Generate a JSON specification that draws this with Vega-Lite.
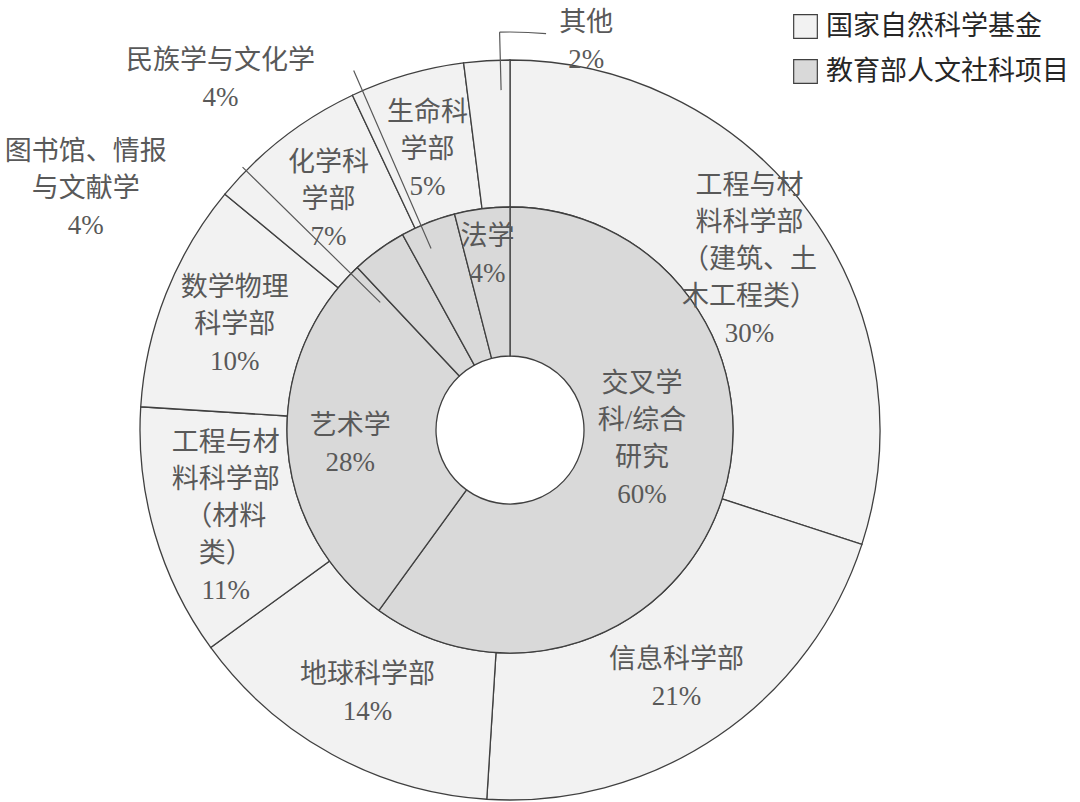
{
  "$schema": "https://vega.github.io/schema/vega-lite/v6.json",
  "width": 740,
  "height": 740,
  "autosize": "none",
  "padding": {"left": 140, "top": 60, "right": 200, "bottom": 2},
  "background": "white",
  "config": {
    "view": {"stroke": null},
    "font": "Liberation Serif, Noto Sans CJK SC",
    "text": {
      "fontSize": 27,
      "lineHeight": 37,
      "lineBreak": "\n",
      "color": "#595959",
      "align": "center",
      "baseline": "middle",
      "dy": {"expr": "4 - 18.5 * (length(split(datum.label, '\\n')) - 1)"}
    }
  },
  "data": {
    "values": [
      {"source": "国家自然科学基金", "order": 1, "name": "工程与材料科学部（建筑、土木工程类）", "label": "工程与材\n料科学部\n（建筑、土\n木工程类）\n30%", "value": 30},
      {"source": "国家自然科学基金", "order": 2, "name": "信息科学部", "label": "信息科学部\n21%", "value": 21},
      {"source": "国家自然科学基金", "order": 3, "name": "地球科学部", "label": "地球科学部\n14%", "value": 14},
      {"source": "国家自然科学基金", "order": 4, "name": "工程与材料科学部（材料类）", "label": "工程与材\n料科学部\n（材料\n类）\n11%", "value": 11},
      {"source": "国家自然科学基金", "order": 5, "name": "数学物理科学部", "label": "数学物理\n科学部\n10%", "value": 10},
      {"source": "国家自然科学基金", "order": 6, "name": "化学科学部", "label": "化学科\n学部\n7%", "value": 7},
      {"source": "国家自然科学基金", "order": 7, "name": "生命科学部", "label": "生命科\n学部\n5%", "value": 5},
      {"source": "国家自然科学基金", "order": 8, "name": "其他", "label": "其他\n2%", "value": 2},
      {"source": "教育部人文社科项目", "order": 1, "name": "交叉学科/综合研究", "label": "交叉学\n科/综合\n研究\n60%", "value": 60},
      {"source": "教育部人文社科项目", "order": 2, "name": "艺术学", "label": "艺术学\n28%", "value": 28},
      {"source": "教育部人文社科项目", "order": 3, "name": "图书馆、情报与文献学", "label": "图书馆、情报\n与文献学\n4%", "value": 4},
      {"source": "教育部人文社科项目", "order": 4, "name": "民族学与文化学", "label": "民族学与文化学\n4%", "value": 4},
      {"source": "教育部人文社科项目", "order": 5, "name": "法学", "label": "法学\n4%", "value": 4}
    ]
  },
  "encoding": {
    "theta": {"field": "value", "type": "quantitative", "stack": true},
    "order": {"field": "order", "type": "quantitative"}
  },
  "layer": [
    {
      "transform": [{"filter": "datum.source === '国家自然科学基金'"}],
      "mark": {"type": "arc", "radius": 370, "radius2": 223, "stroke": "#404040", "strokeWidth": 1.3},
      "encoding": {
        "color": {
          "field": "source",
          "type": "nominal",
          "scale": {"domain": ["国家自然科学基金", "教育部人文社科项目"], "range": ["#f2f2f2", "#d9d9d9"]},
          "legend": {
            "title": null,
            "orient": "none",
            "legendX": 652,
            "legendY": -47,
            "symbolType": "square",
            "symbolSize": 560,
            "symbolStrokeColor": "#595959",
            "symbolStrokeWidth": 1.2,
            "symbolOpacity": 1,
            "labelFontSize": 27,
            "labelColor": "#262626",
            "labelOffset": 7,
            "labelLimit": 400,
            "rowPadding": 16
          }
        }
      }
    },
    {
      "transform": [{"filter": "datum.source === '教育部人文社科项目'"}],
      "mark": {"type": "arc", "radius": 223, "radius2": 74, "stroke": "#404040", "strokeWidth": 1.3},
      "encoding": {
        "color": {"field": "source", "type": "nominal"}
      }
    },
    {
      "transform": [
        {"filter": "datum.source === '国家自然科学基金'"},
        {"stack": "value", "groupby": [], "sort": [{"field": "order", "order": "ascending"}], "as": ["t0", "t1"]}
      ],
      "mark": {"type": "arc", "radius": 398, "radius2": 340, "thetaOffset": 0.0995, "theta2Offset": 0.0995, "fillOpacity": 0, "stroke": "#595959", "strokeWidth": 1.2},
      "encoding": {
        "theta": {"field": "t0", "type": "quantitative", "stack": null},
        "theta2": {"field": "t0"},
        "strokeOpacity": {"condition": {"test": "datum.name === '其他'", "value": 1}, "value": 0}
      }
    },
    {
      "transform": [
        {"filter": "datum.source === '国家自然科学基金'"},
        {"stack": "value", "groupby": [], "sort": [{"field": "order", "order": "ascending"}], "as": ["t0", "t1"]}
      ],
      "mark": {"type": "arc", "radius": 398, "radius2": 398, "thetaOffset": 0.0995, "theta2Offset": 0.2164, "fillOpacity": 0, "stroke": "#595959", "strokeWidth": 1.2},
      "encoding": {
        "theta": {"field": "t0", "type": "quantitative", "stack": null},
        "theta2": {"field": "t0"},
        "strokeOpacity": {"condition": {"test": "datum.name === '其他'", "value": 1}, "value": 0}
      }
    },
    {
      "transform": [
        {"filter": "datum.source === '教育部人文社科项目'"},
        {"stack": "value", "groupby": [], "sort": [{"field": "order", "order": "ascending"}], "as": ["t0", "t1"]}
      ],
      "mark": {"type": "arc", "radius": 392, "radius2": 198, "thetaOffset": 0.0925, "theta2Offset": 0.0925, "fillOpacity": 0, "stroke": "#595959", "strokeWidth": 1.2},
      "encoding": {
        "theta": {"field": "t0", "type": "quantitative", "stack": null},
        "theta2": {"field": "t0"},
        "strokeOpacity": {"condition": {"test": "datum.name === '民族学与文化学'", "value": 1}, "value": 0}
      }
    },
    {
      "transform": [
        {"filter": "datum.source === '教育部人文社科项目'"},
        {"stack": "value", "groupby": [], "sort": [{"field": "order", "order": "ascending"}], "as": ["t0", "t1"]}
      ],
      "mark": {"type": "arc", "radius": 375, "radius2": 182, "thetaOffset": -0.0401, "theta2Offset": -0.0401, "fillOpacity": 0, "stroke": "#595959", "strokeWidth": 1.2},
      "encoding": {
        "theta": {"field": "t0", "type": "quantitative", "stack": null},
        "theta2": {"field": "t0"},
        "strokeOpacity": {"condition": {"test": "datum.name === '图书馆、情报与文献学'", "value": 1}, "value": 0}
      }
    },
    {
      "transform": [{"filter": "datum.source === '国家自然科学基金'"}],
      "mark": {"type": "text", "radius": 296},
      "encoding": {
        "text": {"condition": {"test": "datum.name !== '其他'", "field": "label", "type": "nominal"}, "value": ""}
      }
    },
    {
      "transform": [{"filter": "datum.source === '教育部人文社科项目'"}],
      "mark": {"type": "text", "radius": 160},
      "encoding": {
        "text": {"condition": {"test": "datum.name === '艺术学'", "field": "label", "type": "nominal"}, "value": ""}
      }
    },
    {
      "transform": [{"filter": "datum.source === '教育部人文社科项目'"}],
      "mark": {"type": "text", "radius": 132, "thetaOffset": -0.276},
      "encoding": {
        "text": {"condition": {"test": "datum.name === '交叉学科/综合研究'", "field": "label", "type": "nominal"}, "value": ""}
      }
    },
    {
      "transform": [{"filter": "datum.source === '教育部人文社科项目'"}],
      "mark": {"type": "text", "radius": 180},
      "encoding": {
        "text": {"condition": {"test": "datum.name === '法学'", "field": "label", "type": "nominal"}, "value": ""}
      }
    },
    {
      "transform": [{"filter": "datum.source === '国家自然科学基金'"}],
      "mark": {"type": "text", "radius": 400, "thetaOffset": 0.2548},
      "encoding": {
        "text": {"condition": {"test": "datum.name === '其他'", "field": "label", "type": "nominal"}, "value": ""}
      }
    },
    {
      "transform": [{"filter": "datum.source === '教育部人文社科项目'"}],
      "mark": {"type": "text", "radius": 458, "thetaOffset": -0.3072},
      "encoding": {
        "text": {"condition": {"test": "datum.name === '民族学与文化学'", "field": "label", "type": "nominal"}, "value": ""}
      }
    },
    {
      "transform": [{"filter": "datum.source === '教育部人文社科项目'"}],
      "mark": {"type": "text", "radius": 490, "thetaOffset": -0.4189},
      "encoding": {
        "text": {"condition": {"test": "datum.name === '图书馆、情报与文献学'", "field": "label", "type": "nominal"}, "value": ""}
      }
    }
  ]
}
